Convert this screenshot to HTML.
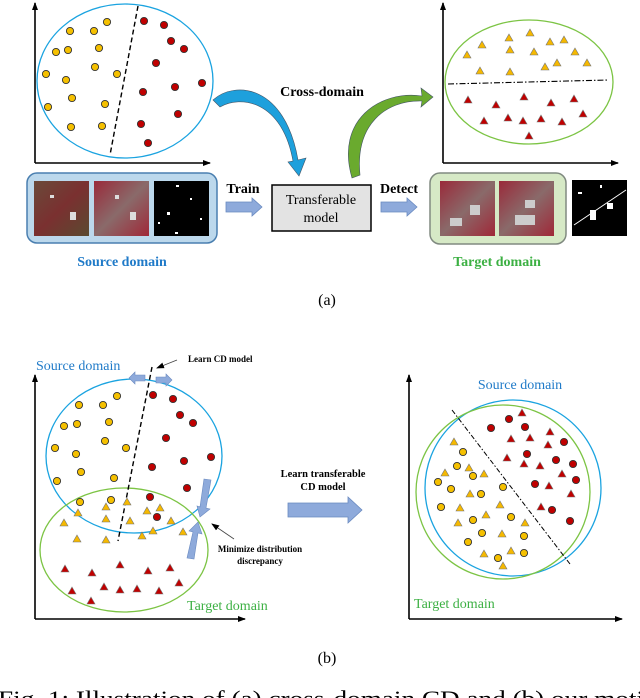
<!DOCTYPE html>
<html><head><meta charset="utf-8"><style>
html,body{margin:0;padding:0;background:#fff;overflow:hidden;}
svg{display:block;}
text{font-family:"Liberation Serif",serif;}
</style></head><body>
<svg width="640" height="698" viewBox="0 0 640 698" xmlns="http://www.w3.org/2000/svg">
<defs>
<marker id="ah" markerWidth="8" markerHeight="8" refX="7" refY="4" orient="auto" markerUnits="userSpaceOnUse"><path d="M0,1 L8,4 L0,7 Z" fill="#000"/></marker>
<g id="yc"><circle r="3.6" fill="#f5c000" stroke="#333" stroke-width="0.9"/></g>
<g id="rc"><circle r="3.6" fill="#c00000" stroke="#333" stroke-width="0.9"/></g>
<g id="yt"><path d="M0,-4 L4,3 L-4,3 Z" fill="#f5b800" stroke="#777" stroke-width="0.6"/></g>
<g id="rt"><path d="M0,-4 L4,3 L-4,3 Z" fill="#c00000" stroke="#777" stroke-width="0.6"/></g>
<linearGradient id="sat1" x1="0" y1="0" x2="1" y2="1"><stop offset="0" stop-color="#6a4a3a"/><stop offset="0.5" stop-color="#7a3030"/><stop offset="1" stop-color="#5a4a30"/></linearGradient>
<linearGradient id="sat2" x1="0" y1="0" x2="1" y2="1"><stop offset="0" stop-color="#9a2a3a"/><stop offset="0.5" stop-color="#8a6a6a"/><stop offset="1" stop-color="#a02838"/></linearGradient>
</defs>

<g stroke="#000" stroke-width="1.6" fill="none">
<line x1="35" y1="163" x2="35" y2="3" marker-end="url(#ah)"/>
<line x1="35" y1="163" x2="210" y2="163" marker-end="url(#ah)"/>
<line x1="443" y1="163" x2="443" y2="3" marker-end="url(#ah)"/>
<line x1="443" y1="163" x2="618" y2="163" marker-end="url(#ah)"/>
</g>
<ellipse cx="125" cy="81" rx="88" ry="77" fill="none" stroke="#1aa3e0" stroke-width="1.3"/>
<line x1="138" y1="6" x2="110" y2="155" stroke="#000" stroke-width="1.4" stroke-dasharray="5,3"/>
<ellipse cx="529" cy="82" rx="84" ry="62" fill="none" stroke="#7cc444" stroke-width="1.3"/>
<line x1="448" y1="84" x2="608" y2="80" stroke="#000" stroke-width="1.1" stroke-dasharray="6,2,1.5,2"/>

<use href="#yc" x="107" y="22"/><use href="#yc" x="70" y="31"/><use href="#yc" x="94" y="31"/><use href="#yc" x="56" y="52"/><use href="#yc" x="68" y="50"/><use href="#yc" x="99" y="48"/><use href="#yc" x="95" y="67"/><use href="#yc" x="117" y="74"/><use href="#yc" x="46" y="74"/><use href="#yc" x="66" y="80"/><use href="#yc" x="72" y="98"/><use href="#yc" x="105" y="104"/><use href="#yc" x="48" y="107"/><use href="#yc" x="71" y="127"/><use href="#yc" x="102" y="126"/>
<use href="#rc" x="144" y="21"/><use href="#rc" x="164" y="25"/><use href="#rc" x="171" y="41"/><use href="#rc" x="184" y="49"/><use href="#rc" x="156" y="63"/><use href="#rc" x="202" y="83"/><use href="#rc" x="175" y="87"/><use href="#rc" x="143" y="92"/><use href="#rc" x="178" y="114"/><use href="#rc" x="141" y="124"/><use href="#rc" x="148" y="143"/>

<use href="#yt" x="509" y="38"/><use href="#yt" x="530" y="33"/><use href="#yt" x="482" y="45"/><use href="#yt" x="550" y="42"/><use href="#yt" x="564" y="40"/><use href="#yt" x="467" y="55"/><use href="#yt" x="510" y="50"/><use href="#yt" x="534" y="52"/><use href="#yt" x="575" y="52"/><use href="#yt" x="545" y="67"/><use href="#yt" x="557" y="63"/><use href="#yt" x="587" y="63"/><use href="#yt" x="480" y="71"/><use href="#yt" x="510" y="72"/>
<use href="#rt" x="468" y="100"/><use href="#rt" x="524" y="97"/><use href="#rt" x="496" y="105"/><use href="#rt" x="551" y="103"/><use href="#rt" x="574" y="99"/><use href="#rt" x="583" y="114"/><use href="#rt" x="484" y="121"/><use href="#rt" x="508" y="118"/><use href="#rt" x="523" y="121"/><use href="#rt" x="541" y="119"/><use href="#rt" x="562" y="122"/><use href="#rt" x="529" y="136"/>

<path d="M213,100 C235,80 285,85 298,160 L306,158 L299,176 L288,162 L293,161 C282,100 240,95 220,107 Z" fill="#1ea0dc" stroke="#456" stroke-width="0.6"/>
<path d="M352,178 C335,120 380,90 422,96 L421,88 L433,97 L421,107 L422,101 C385,100 355,125 360,175 Z" fill="#6aaa2e" stroke="#456" stroke-width="0.6"/>
<text x="322" y="96" font-size="14" font-weight="bold" text-anchor="middle">Cross-domain</text>

<rect x="27" y="173" width="190" height="70" rx="10" fill="#bcd8ec" stroke="#4a7fb0" stroke-width="1.5"/>
<rect x="34" y="181" width="55" height="55" fill="url(#sat1)"/>
<rect x="94" y="181" width="55" height="55" fill="url(#sat2)"/>
<g fill="#ddd"><rect x="70" y="212" width="6" height="8"/><rect x="50" y="195" width="4" height="3"/><rect x="130" y="212" width="6" height="8"/><rect x="115" y="195" width="4" height="4"/></g>
<rect x="154" y="181" width="55" height="55" fill="#000"/>
<g fill="#fff"><rect x="176" y="185" width="3" height="2"/><rect x="190" y="198" width="2" height="2"/><rect x="167" y="212" width="3" height="3"/><rect x="200" y="218" width="2" height="2"/><rect x="175" y="232" width="3" height="2"/><rect x="158" y="222" width="2" height="2"/></g>
<text x="243" y="193" font-size="14" font-weight="bold" text-anchor="middle">Train</text>
<path d="M226,202 L252,202 L252,198 L262,207 L252,216 L252,212 L226,212 Z" fill="#8eaadb" stroke="#6a8ac0" stroke-width="0.8"/>
<rect x="272" y="185" width="99" height="46" fill="#e3e3e3" stroke="#000" stroke-width="1.5"/>
<text x="321" y="204" font-size="14" text-anchor="middle">Transferable</text>
<text x="321" y="222" font-size="14" text-anchor="middle">model</text>
<text x="399" y="193" font-size="14" font-weight="bold" text-anchor="middle">Detect</text>
<path d="M381,202 L407,202 L407,198 L417,207 L407,216 L407,212 L381,212 Z" fill="#8eaadb" stroke="#6a8ac0" stroke-width="0.8"/>
<rect x="430" y="173" width="136" height="71" rx="10" fill="#d6e9c6" stroke="#808a80" stroke-width="1.5"/>
<rect x="440" y="181" width="55" height="55" fill="url(#sat2)"/>
<rect x="499" y="181" width="55" height="55" fill="url(#sat2)"/>
<g fill="#ccc"><rect x="470" y="205" width="10" height="10"/><rect x="450" y="218" width="12" height="8"/><rect x="515" y="215" width="20" height="10"/><rect x="525" y="200" width="10" height="8"/></g>
<rect x="572" y="180" width="55" height="56" fill="#000"/>
<path d="M574,225 L626,190" stroke="#fff" stroke-width="1"/>
<g fill="#fff"><rect x="590" y="210" width="6" height="10"/><rect x="607" y="203" width="6" height="6"/><rect x="578" y="192" width="4" height="2"/><rect x="600" y="185" width="2" height="3"/></g>
<text x="122" y="266" font-size="14" font-weight="bold" fill="#1f7ac8" text-anchor="middle">Source domain</text>
<text x="497" y="266" font-size="14" font-weight="bold" fill="#3cb043" text-anchor="middle">Target domain</text>
<text x="327" y="305" font-size="16" text-anchor="middle">(a)</text>

<g stroke="#000" stroke-width="1.6" fill="none">
<line x1="35" y1="619" x2="35" y2="375" marker-end="url(#ah)"/>
<line x1="35" y1="619" x2="245" y2="619" marker-end="url(#ah)"/>
<line x1="409" y1="619" x2="409" y2="375" marker-end="url(#ah)"/>
<line x1="409" y1="619" x2="622" y2="619" marker-end="url(#ah)"/>
</g>
<ellipse cx="134" cy="456" rx="88" ry="77" fill="none" stroke="#1aa3e0" stroke-width="1.3"/>
<ellipse cx="124" cy="550" rx="84" ry="62" fill="none" stroke="#7cc444" stroke-width="1.3"/>
<line x1="152" y1="367" x2="118" y2="541" stroke="#000" stroke-width="1.4" stroke-dasharray="5,3"/>
<text x="36" y="370" font-size="14" fill="#1f7ac8">Source domain</text>
<text x="188" y="362" font-size="9" font-weight="bold">Learn CD model</text>
<line x1="177" y1="360" x2="157" y2="368" stroke="#444" stroke-width="0.8" marker-end="url(#ah)"/>
<path d="M145,375 L135,375 L135,372 L129,378 L135,384 L135,381 L145,381 Z" fill="#8eaadb" stroke="#6a8ac0" stroke-width="0.6"/>
<path d="M156,377 L166,377 L166,374 L172,380 L166,386 L166,383 L156,383 Z" fill="#8eaadb" stroke="#6a8ac0" stroke-width="0.6"/>

<use href="#yc" x="117" y="396"/><use href="#yc" x="79" y="405"/><use href="#yc" x="103" y="405"/><use href="#yc" x="109" y="422"/><use href="#yc" x="64" y="426"/><use href="#yc" x="77" y="424"/><use href="#yc" x="105" y="441"/><use href="#yc" x="126" y="448"/><use href="#yc" x="55" y="448"/><use href="#yc" x="76" y="454"/><use href="#yc" x="81" y="472"/><use href="#yc" x="114" y="478"/><use href="#yc" x="57" y="481"/><use href="#yc" x="80" y="502"/><use href="#yc" x="111" y="500"/>
<use href="#rc" x="153" y="395"/><use href="#rc" x="173" y="399"/><use href="#rc" x="180" y="415"/><use href="#rc" x="193" y="423"/><use href="#rc" x="166" y="438"/><use href="#rc" x="211" y="457"/><use href="#rc" x="184" y="461"/><use href="#rc" x="152" y="467"/><use href="#rc" x="187" y="488"/><use href="#rc" x="150" y="497"/><use href="#rc" x="157" y="517"/>
<use href="#yt" x="78" y="513"/><use href="#yt" x="106" y="507"/><use href="#yt" x="127" y="502"/><use href="#yt" x="147" y="511"/><use href="#yt" x="160" y="508"/><use href="#yt" x="64" y="523"/><use href="#yt" x="106" y="519"/><use href="#yt" x="130" y="521"/><use href="#yt" x="171" y="521"/><use href="#yt" x="77" y="539"/><use href="#yt" x="106" y="540"/><use href="#yt" x="142" y="536"/><use href="#yt" x="153" y="531"/><use href="#yt" x="183" y="532"/>
<use href="#rt" x="65" y="569"/><use href="#rt" x="92" y="573"/><use href="#rt" x="120" y="565"/><use href="#rt" x="148" y="571"/><use href="#rt" x="170" y="568"/><use href="#rt" x="179" y="583"/><use href="#rt" x="72" y="591"/><use href="#rt" x="104" y="587"/><use href="#rt" x="120" y="590"/><use href="#rt" x="137" y="589"/><use href="#rt" x="159" y="591"/><use href="#rt" x="91" y="601"/>

<path d="M204,479 L211,480 L206,508 L210,509 L200,517 L197,506 L200,507 Z" fill="#8eaadb" stroke="#6a8ac0" stroke-width="0.6"/>
<path d="M187,558 L194,559 L198,533 L202,534 L198,522 L189,531 L193,532 Z" fill="#8eaadb" stroke="#6a8ac0" stroke-width="0.6"/>
<line x1="234" y1="539" x2="212" y2="524" stroke="#444" stroke-width="0.8" marker-end="url(#ah)"/>
<text x="260" y="552" font-size="9" font-weight="bold" text-anchor="middle">Minimize distribution</text>
<text x="260" y="564" font-size="9" font-weight="bold" text-anchor="middle">discrepancy</text>
<text x="187" y="610" font-size="14" fill="#3cb043">Target domain</text>

<text x="323" y="477" font-size="10.5" font-weight="bold" text-anchor="middle">Learn transferable</text>
<text x="323" y="490" font-size="10.5" font-weight="bold" text-anchor="middle">CD model</text>
<path d="M288,503 L348,503 L348,497 L362,510 L348,523 L348,517 L288,517 Z" fill="#8eaadb" stroke="#6a8ac0" stroke-width="0.8"/>

<ellipse cx="513" cy="488" rx="88" ry="88" fill="none" stroke="#1aa3e0" stroke-width="1.3"/>
<ellipse cx="503" cy="492" rx="87" ry="87" fill="none" stroke="#7cc444" stroke-width="1.3"/>
<line x1="452" y1="410" x2="570" y2="564" stroke="#000" stroke-width="1" stroke-dasharray="5,2,1.5,2"/>
<text x="520" y="389" font-size="14" fill="#1f7ac8" text-anchor="middle">Source domain</text>
<text x="414" y="608" font-size="14" fill="#3cb043">Target domain</text>

<use href="#rc" x="509" y="419"/><use href="#rc" x="491" y="428"/><use href="#rc" x="525" y="427"/><use href="#rc" x="564" y="442"/><use href="#rc" x="527" y="454"/><use href="#rc" x="556" y="460"/><use href="#rc" x="573" y="464"/><use href="#rc" x="576" y="480"/><use href="#rc" x="535" y="484"/><use href="#rc" x="552" y="510"/><use href="#rc" x="570" y="521"/>
<use href="#rt" x="522" y="413"/><use href="#rt" x="550" y="432"/><use href="#rt" x="511" y="439"/><use href="#rt" x="530" y="438"/><use href="#rt" x="548" y="445"/><use href="#rt" x="507" y="458"/><use href="#rt" x="524" y="464"/><use href="#rt" x="540" y="466"/><use href="#rt" x="562" y="474"/><use href="#rt" x="549" y="486"/><use href="#rt" x="571" y="494"/><use href="#rt" x="541" y="507"/>
<use href="#yc" x="463" y="452"/><use href="#yc" x="457" y="466"/><use href="#yc" x="473" y="476"/><use href="#yc" x="438" y="482"/><use href="#yc" x="451" y="489"/><use href="#yc" x="503" y="487"/><use href="#yc" x="481" y="494"/><use href="#yc" x="441" y="507"/><use href="#yc" x="473" y="520"/><use href="#yc" x="511" y="517"/><use href="#yc" x="482" y="533"/><use href="#yc" x="524" y="536"/><use href="#yc" x="468" y="542"/><use href="#yc" x="498" y="558"/><use href="#yc" x="524" y="553"/>
<use href="#yt" x="454" y="442"/><use href="#yt" x="469" y="468"/><use href="#yt" x="445" y="473"/><use href="#yt" x="484" y="474"/><use href="#yt" x="470" y="494"/><use href="#yt" x="460" y="508"/><use href="#yt" x="500" y="505"/><use href="#yt" x="486" y="515"/><use href="#yt" x="458" y="523"/><use href="#yt" x="525" y="523"/><use href="#yt" x="502" y="534"/><use href="#yt" x="484" y="554"/><use href="#yt" x="511" y="551"/><use href="#yt" x="503" y="566"/>

<text x="327" y="663" font-size="16" text-anchor="middle">(b)</text>
<text x="-2" y="706" font-size="22" textLength="646" lengthAdjust="spacingAndGlyphs">Fig. 1: Illustration of (a) cross-domain CD and (b) our moti</text>
</svg>
</body></html>
